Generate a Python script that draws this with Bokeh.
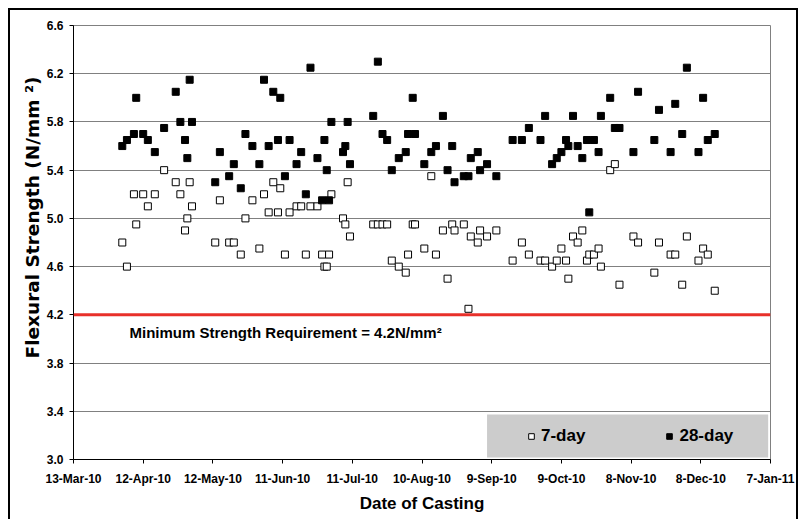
import pandas as pd
from bokeh.plotting import figure
from bokeh.models import (ColumnDataSource, Range1d, FixedTicker, CustomJSTickFormatter,
                          PrintfTickFormatter, Span, Label, BoxAnnotation, Legend, LegendItem, Title)
from bokeh.embed import file_html
from bokeh.resources import INLINE

# ---------------- data ----------------
DATES = [
    "2010-04-03", "2010-04-05", "2010-04-08", "2010-04-09", "2010-04-12", "2010-04-14", "2010-04-17", "2010-04-21", "2010-04-26", "2010-04-28",
    "2010-04-30", "2010-05-01", "2010-05-02", "2010-05-03", "2010-05-13", "2010-05-15", "2010-05-19", "2010-05-21", "2010-05-24", "2010-05-26",
    "2010-05-29", "2010-06-01", "2010-06-03", "2010-06-05", "2010-06-07", "2010-06-09", "2010-06-10", "2010-06-12", "2010-06-14", "2010-06-17",
    "2010-06-19", "2010-06-21", "2010-06-23", "2010-06-26", "2010-06-28", "2010-06-29", "2010-06-30", "2010-07-01", "2010-07-02", "2010-07-07",
    "2010-07-08", "2010-07-09", "2010-07-10", "2010-07-20", "2010-07-22", "2010-07-24", "2010-07-26", "2010-07-28", "2010-07-31", "2010-08-03",
    "2010-08-04", "2010-08-06", "2010-08-07", "2010-08-11", "2010-08-14", "2010-08-16", "2010-08-19", "2010-08-21", "2010-08-23", "2010-08-24",
    "2010-08-28", "2010-08-30", "2010-08-31", "2010-09-03", "2010-09-04", "2010-09-07", "2010-09-11", "2010-09-18", "2010-09-22", "2010-09-25",
    "2010-09-30", "2010-10-02", "2010-10-05", "2010-10-07", "2010-10-09", "2010-10-11", "2010-10-12", "2010-10-14", "2010-10-16", "2010-10-18",
    "2010-10-20", "2010-10-21", "2010-10-23", "2010-10-25", "2010-10-26", "2010-10-30", "2010-11-01", "2010-11-03", "2010-11-09", "2010-11-11",
    "2010-11-18", "2010-11-20", "2010-11-25", "2010-11-27", "2010-11-30", "2010-12-02", "2010-12-07", "2010-12-09", "2010-12-11", "2010-12-14",
]

SEVEN_DAY = [
    4.80, 4.60, 5.20, 4.95, 5.20, 5.10, 5.20, 5.40, 5.30, 5.20,
    4.90, 5.00, 5.30, 5.10, 4.80, 5.15, 4.80, 4.80, 4.70, 5.00,
    5.15, 4.75, 5.20, 5.05, 5.30, 5.05, 5.25, 4.70, 5.05, 5.10,
    5.10, 4.70, 5.10, 5.10, 4.70, 4.60, 4.60, 4.70, 5.20, 5.00,
    4.95, 5.30, 4.85, 4.95, 4.95, 4.95, 4.95, 4.65, 4.60, 4.55,
    4.70, 4.95, 4.95, 4.75, 5.35, 4.70, 4.90, 4.50, 4.95, 4.90,
    4.95, 4.25, 4.85, 4.80, 4.90, 4.85, 4.90, 4.65, 4.80, 4.70,
    4.65, 4.65, 4.60, 4.65, 4.75, 4.65, 4.50, 4.85, 4.80, 4.90,
    4.65, 4.70, 4.70, 4.75, 4.60, 5.40, 5.45, 4.45, 4.85, 4.80,
    4.55, 4.80, 4.70, 4.70, 4.45, 4.85, 4.65, 4.75, 4.70, 4.40,
]

TWENTY_EIGHT_DAY = [
    5.60, 5.65, 5.70, 6.00, 5.70, 5.65, 5.55, 5.75, 6.05, 5.80,
    5.65, 5.50, 6.15, 5.80, 5.30, 5.55, 5.35, 5.45, 5.25, 5.70,
    5.60, 5.45, 6.15, 5.60, 6.05, 5.65, 6.00, 5.35, 5.65, 5.45,
    5.55, 5.20, 6.25, 5.50, 5.15, 5.65, 5.40, 5.15, 5.80, 5.55,
    5.60, 5.80, 5.45, 5.85, 6.30, 5.70, 5.65, 5.40, 5.50, 5.55,
    5.70, 6.00, 5.70, 5.45, 5.55, 5.60, 5.85, 5.40, 5.60, 5.30,
    5.35, 5.35, 5.50, 5.55, 5.40, 5.45, 5.35, 5.65, 5.65, 5.75,
    5.65, 5.85, 5.45, 5.50, 5.55, 5.65, 5.60, 5.85, 5.60, 5.50,
    5.65, 5.05, 5.65, 5.55, 5.85, 6.00, 5.75, 5.75, 5.55, 6.05,
    5.65, 5.90, 5.55, 5.95, 5.70, 6.25, 5.55, 6.00, 5.65, 5.70,
]

X_TICK_DATES = ["2010-03-13", "2010-04-12", "2010-05-12", "2010-06-11", "2010-07-11", "2010-08-10",
                "2010-09-09", "2010-10-09", "2010-11-08", "2010-12-08", "2011-01-07"]
Y_TICKS = [3.0, 3.4, 3.8, 4.2, 4.6, 5.0, 5.4, 5.8, 6.2, 6.6]
SERIES_LABELS = ["7-day", "28-day"]
MIN_REQUIREMENT = 4.2
MIN_TEXT = "Minimum Strength Requirement = 4.2N/mm\u00b2"
X_TITLE = "Date of Casting"
Y_TITLE = "Flexural Strength (N/mm \u00b2)"
LEGEND_BOX_X = ["2010-09-07", "2011-01-06"]
LEGEND_BOX_Y = [3.017, 3.373]

FONT = "Liberation Sans"

# ---------------- figure ----------------
src = ColumnDataSource(dict(date=pd.to_datetime(DATES), d7=SEVEN_DAY, d28=TWENTY_EIGHT_DAY))
x_ticks = pd.to_datetime(X_TICK_DATES)
tick_ms = [float((t - pd.Timestamp("1970-01-01")) // pd.Timedelta(milliseconds=1)) for t in x_ticks]

p = figure(width=790, height=511, output_backend="svg", toolbar_location=None,
           x_axis_type="datetime",
           x_range=Range1d(x_ticks[0], x_ticks[-1]), y_range=Range1d(Y_TICKS[0], Y_TICKS[-1]),
           min_border_left=63, min_border_right=30, min_border_top=15, min_border_bottom=62,
           background_fill_color="white", border_fill_color="white",
           styles={"margin-left": "8px", "margin-top": "8px",
                   "border-top": "2px solid black", "border-left": "2px solid black",
                   "border-right": "2px solid black"})

p.outline_line_color = "#808080"
p.outline_line_width = 1
p.xgrid.visible = False
p.ygrid.grid_line_color = "#808080"
p.ygrid.grid_line_width = 1
p.ygrid.ticker = FixedTicker(ticks=Y_TICKS)

for ax in (p.xaxis[0], p.yaxis[0]):
    ax.axis_line_color = "black"
    ax.axis_line_width = 1
    ax.major_tick_line_color = "black"
    ax.major_tick_out = 4
    ax.major_tick_in = 0
    ax.minor_tick_line_color = None
    ax.major_label_text_font = FONT
    ax.major_label_text_font_style = "bold"
    ax.major_label_text_font_size = "12px"
    ax.major_label_text_color = "black"

p.xaxis.ticker = FixedTicker(ticks=tick_ms)
p.xaxis.formatter = CustomJSTickFormatter(code="""
const d = new Date(tick);
const m = ["Jan","Feb","Mar","Apr","May","Jun","Jul","Aug","Sep","Oct","Nov","Dec"][d.getUTCMonth()];
return d.getUTCDate() + "-" + m + "-" + String(d.getUTCFullYear()).slice(-2);
""")
p.xaxis.major_label_standoff = 8
p.xaxis.axis_label = X_TITLE
p.xaxis.axis_label_text_font = FONT
p.xaxis.axis_label_text_font_style = "bold"
p.xaxis.axis_label_text_font_size = "17px"
p.xaxis.axis_label_text_color = "black"
p.xaxis.axis_label_standoff = 5

p.yaxis.ticker = FixedTicker(ticks=Y_TICKS)
p.yaxis.formatter = PrintfTickFormatter(format="%.1f")
p.yaxis.major_label_standoff = 6

# y-axis title (placed as a side title so it can sit where the original does)
p.add_layout(Title(text=Y_TITLE, align="right", offset=51, vertical_align="middle", standoff=0,
                   text_font="DejaVu Sans", text_font_style="bold", text_font_size="18.5px",
                   text_color="black"), "left")

# legend background box
p.add_layout(BoxAnnotation(left=pd.Timestamp(LEGEND_BOX_X[0]), right=pd.Timestamp(LEGEND_BOX_X[1]),
                           bottom=LEGEND_BOX_Y[0], top=LEGEND_BOX_Y[1],
                           fill_color="#CCCCCC", fill_alpha=1.0, line_alpha=0, level="underlay"))

# minimum requirement line
p.add_layout(Span(location=MIN_REQUIREMENT, dimension="width", line_color="#E8302A", line_width=3))

r7 = p.scatter(x="date", y="d7", source=src, marker="square", size=7,
               fill_color="white", line_color="black", line_width=1)
r28 = p.scatter(x="date", y="d28", source=src, marker="square", size=7,
                fill_color="black", line_color="black", line_width=1)

p.add_layout(Label(x=x_ticks[0], y=MIN_REQUIREMENT, x_offset=56, y_offset=-18, text=MIN_TEXT,
                   text_font=FONT, text_font_style="bold", text_font_size="15px",
                   text_color="black", text_baseline="alphabetic", text_align="left"))

legend = Legend(items=[LegendItem(label=SERIES_LABELS[0], renderers=[r7]),
                       LegendItem(label=SERIES_LABELS[1], renderers=[r28])],
                orientation="horizontal", location=(447, 9),
                background_fill_alpha=0, border_line_alpha=0,
                label_text_font=FONT, label_text_font_style="bold", label_text_font_size="17px",
                label_text_color="black",
                glyph_width=14, glyph_height=14, label_standoff=3, spacing=77,
                padding=4, margin=0)
p.add_layout(legend)

open("out.html", "w").write(file_html(p, INLINE))
